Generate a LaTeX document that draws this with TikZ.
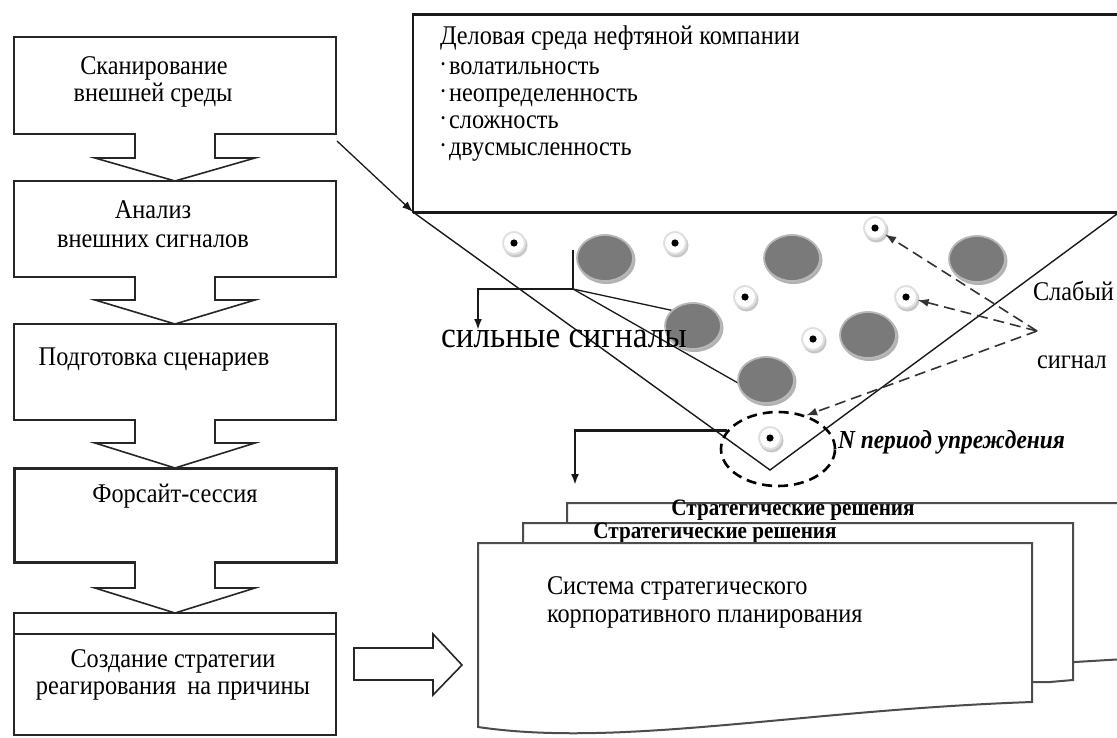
\documentclass[tikz,border=0pt]{standalone}
\usepackage{fontspec}
\setmainfont{Liberation Serif}[FakeStretch=0.9]
\usetikzlibrary{arrows.meta,calc,shapes.geometric}
\newcommand\bxfont{\fontsize{27}{29}\selectfont}
\newcommand\sgfont{\fontsize{37}{40}\selectfont}
\newcommand\srfont{\bfseries\fontsize{23.5}{25}\selectfont}
\newcommand\npfont{\bfseries\itshape\fontsize{26}{28}\selectfont}
\newcommand\smbul{\raisebox{6pt}{\fontsize{13}{13}\selectfont •}\hspace{4pt}}
\begin{document}
\begin{tikzpicture}[x=1pt,y=-1pt,
  lbl/.style={inner sep=0pt, outer sep=0pt, anchor=base, font=\bxfont},
  lboxst/.style={draw=black!85, line width=1.6pt, fill=white, inner sep=0pt, outer sep=0pt, rectangle},
  blk/.style={draw=black!85, line width=1.6pt, line join=miter},
  bigc/.style={ellipse, minimum width=56pt, minimum height=46pt, fill=black!52, draw=black!28, line width=1.8pt, inner sep=0pt},
  smallc/.style={circle, minimum size=22pt, fill=white, draw=black!12, line width=2pt, inner sep=0pt},
  arr/.style={-{Latex[length=11pt,width=8pt]}},
  conn/.style={draw=black!90, line width=1.3pt},
  strong/.style={draw=black!90, line width=2.2pt},
  dashl/.style={draw=black!80, line width=1.6pt, dash pattern=on 11pt off 6pt},
  docl/.style={draw=black!70, line width=2pt, fill=white, line join=miter},
  funnel/.style={draw=black!90, line width=1.4pt}
]
\useasboundingbox (0,0) rectangle (1117,737);
\clip (0,0) rectangle (1117,737);

% ---------- left column ----------
\node[lboxst, minimum width=322pt, minimum height=97pt] (b1) at (175,85.5) {};
\node[lboxst, minimum width=322pt, minimum height=96pt] (b2) at (175,229) {};
\node[lboxst, minimum width=322pt, minimum height=96pt] (b3) at (175,372) {};
\node[lboxst, line width=3pt, minimum width=322pt, minimum height=94pt] (b4) at (175,515) {};
\node[lboxst, minimum width=322pt, minimum height=122pt] (b5) at (175,674) {};
\draw[line width=2.4pt, draw=black!85] ($(b5.north west)+(0,21)$) -- ($(b5.north east)+(0,21)$);
\draw[line width=2.4pt, draw=black!85] (b5.south west) -- (b5.south east);

\newcommand\blkdown[3]{%
  \fill[white] ($(#1.south)+(-39,-2)$) rectangle ($(#1.south)+(39,#3)$);
  \draw[blk] ($(#1.south)+(-40,0)$) -- ++(0,#3) -- ++(-40,0) -- (#2.north)
    -- ($(#1.south)+(80,#3)$) -- ++(-40,0) -- ++(0,-#3);}
\blkdown{b1}{b2}{24}
\blkdown{b2}{b3}{23}
\blkdown{b3}{b4}{23}
\blkdown{b4}{b5}{26}

\node[lbl] (t1a) at (154,74) {Сканирование};
\node[lbl] (t1b) at (153,101) {внешней среды};
\node[lbl] (t2a) at (153,218) {Анализ};
\node[lbl] (t2b) at (153,247) {внешних сигналов};
\node[lbl] (t3a) at (154,365) {Подготовка сценариев};
\node[lbl] (t4a) at (175,502) {Форсайт-сессия};
\node[lbl] (t5a) at (173,667) {Создание стратегии};
\node[lbl] (t5b) at (173,694) {реагирования\hspace{5pt} на причины};

% horizontal block arrow
\coordinate (ha) at (354,648);
\draw[blk, fill=white] (ha) -- ++(79,0) -- ++(0,-14) -- ++(29,31) -- ++(-29,30) -- ++(0,-15) -- ++(-79,0) -- cycle;

% ---------- documents ----------
\draw[docl] (1125,659) -- (1075,662) -- (567,662) -- (567,503) -- (1125,503);
\node[lbl, font=\srfont] (sr1) at (793,515) {Стратегические решения};
\draw[docl] (1073,680) -- (1050,682) -- (523,682) -- (523,523) -- (1073,523) -- cycle;
\node[lbl, font=\srfont] (sr2) at (715,538) {Стратегические решения};
\draw[docl] (478,543) -- (1032,543) -- (1032,702) .. controls (800,710) and (620,748) .. (478,727) -- cycle;
\node[lbl, anchor=base west] (sys1) at (547,594) {Система стратегического};
\node[lbl, anchor=base west] (sys2) at (547,622) {корпоративного планирования};

% ---------- top box ----------
\node[draw=black!90, line width=2pt, fill=white, inner sep=0pt, outer sep=0pt, rectangle,
  minimum width=720pt, minimum height=198pt, anchor=north west] (top) at (413,14) {};
\draw[line width=3pt, draw=black!90] (top.north west) -- (top.north east);
\draw[line width=3pt, draw=black!90] (top.south west) -- (top.south east);
\node[lbl, anchor=base west] (d0) at (440,44) {Деловая среда нефтяной компании};
\node[lbl, anchor=base west] (d1) at (441,74) {\smbul волатильность};
\node[lbl, anchor=base west] (d2) at (441,101) {\smbul неопределенность};
\node[lbl, anchor=base west] (d3) at (441,128) {\smbul сложность};
\node[lbl, anchor=base west] (d4) at (441,155) {\smbul двусмысленность};

% arrow from scanning box to the environment
\coordinate (c1) at (337,141);
\draw[conn, arr] (c1) -- (top.south west);

% ---------- funnel ----------
\coordinate (apex) at (770,470);
\draw[funnel] (top.south west) -- (apex) -- (1121,211);

% dashed circle (lead period)
\node[ellipse, draw=black, line width=2.6pt, dash pattern=on 10pt off 6pt,
  minimum width=114pt, minimum height=74pt, inner sep=0pt] (dc) at (778,449) {};

% strong signals bracket
\coordinate (sj) at (573,289);
\coordinate (sa) at (478,330);
\coordinate (st) at (573,250);
\draw[strong] (st) -- (sj);
\draw[strong, arr] (sj) -| (sa);
\coordinate (b4e) at (684,313);
\coordinate (b6e) at (738,383);
\draw[conn] (sj) -- (b4e);
\draw[conn] (sj) -- (b6e);

% circles
\newcommand\sdot[2]{%
  \fill[black!22] ($#2+(1.5,2.5)$) circle[radius=12];
  \node[smallc] (#1) at #2 {};
  \fill[black] (#1) circle[radius=3.6];}
\newcommand\bdot[2]{%
  \fill[black!30] ($#2+(1.5,2)$) ellipse[x radius=29, y radius=24];
  \node[bigc] (#1) at #2 {};}
\bdot{B1}{(605,258)}
\bdot{B2}{(792,258)}
\bdot{B3}{(977,259)}
\bdot{B4}{(693,326)}
\bdot{B5}{(868,335)}
\bdot{B6}{(766,380)}
\sdot{S1}{(514,243)}
\sdot{S2}{(675,243)}
\sdot{S3}{(875,228)}
\sdot{S4}{(745,297)}
\sdot{S5}{(906,297)}
\sdot{S6}{(813,339)}
\sdot{S7}{(770,438)}

% weak signal dashed pointers
\coordinate (ws) at (1037,331);
\draw[dashl, arr] (ws) -- (S3);
\draw[dashl, arr] (ws) -- (S5);
\draw[dashl, arr] (ws) -- (dc.50);

% lead-period bracket to the decisions
\coordinate (da) at (575,485);
\draw[strong, arr] (dc.160) -| (da);

% labels
\node[lbl, anchor=base west, font=\sgfont] (sig) at (441,347) {сильные сигналы};
\node[lbl, anchor=base west] (wk1) at (1033,300) {Слабый};
\node[lbl, anchor=base west] (wk2) at (1037,368) {сигнал};
\node[lbl, anchor=base west, font=\npfont] (np) at (838,448) {N период упреждения};
\end{tikzpicture}
\end{document}
